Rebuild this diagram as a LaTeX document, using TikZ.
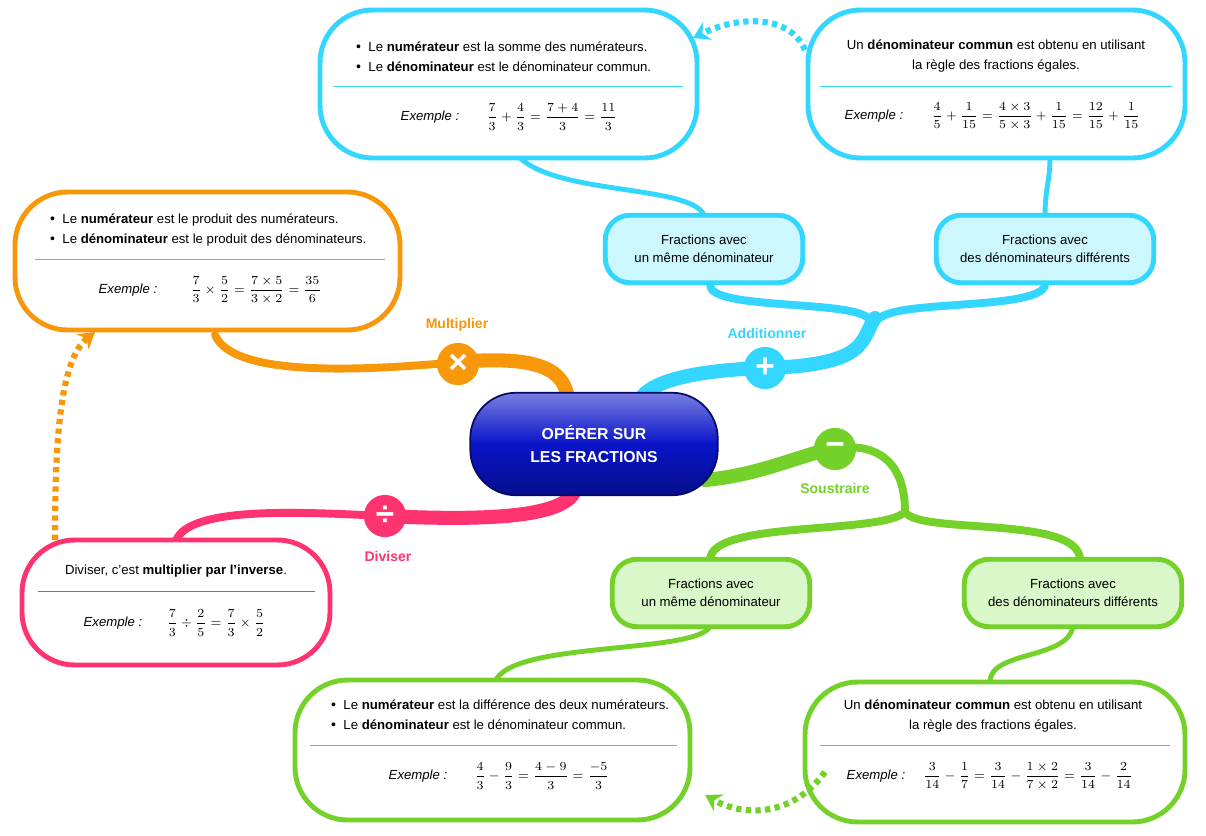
\documentclass[tikz,border=0pt]{standalone}
\usepackage{amsmath}
\usepackage{fontspec}
\setmainfont{Liberation Sans}
\usetikzlibrary{positioning, arrows.meta, calc}
\definecolor{addc}{RGB}{51,214,255}
\definecolor{addf}{RGB}{204,247,255}
\definecolor{mulc}{RGB}{247,152,10}
\definecolor{subc}{RGB}{115,209,42}
\definecolor{subf}{RGB}{217,247,201}
\definecolor{divc}{RGB}{255,51,112}
\definecolor{corec}{RGB}{10,20,200}
\newcommand{\pt}{{\footnotesize\textbullet}\ \ }
\tikzset{
	bubble/.style={draw, line width=2.8pt, rounded corners=30pt, fill=white},
	subnode/.style={draw, line width=2.8pt, rounded corners=14pt, minimum width=3.95cm, minimum height=1.35cm, align=center, font=\fontsize{7.5}{10}\selectfont},
	txt/.style={font=\fontsize{7.5}{11}\selectfont, align=left},
	ex/.style={font=\fontsize{7.5}{10}\selectfont\itshape},
	branch/.style={line width=8pt, line cap=round},
	twig/.style={line width=4.5pt, line cap=round},
	tail/.style={line width=2.8pt},
	opsym/.style={circle, minimum size=24pt, inner sep=0pt, text=white, font=\bfseries\fontsize{19}{19}\selectfont},
	oplab/.style={font=\bfseries\fontsize{8}{10}\selectfont},
	hint/.style={line width=3.5pt, dash pattern=on 3pt off 2.5pt, -{Stealth[length=9pt,width=11pt]}},
}
\begin{document}
\begin{tikzpicture}[x=0.02cm, y=-0.02cm]
\useasboundingbox (0,0) rectangle (1206,835);

% branches
\draw[mulc, twig] (215,335) .. controls (230,370) and (320,375) .. (458,362);
\draw[mulc, branch] (458,362) .. controls (540,355) and (565,370) .. (568,400);
\draw[addc, twig] (1045,285) .. controls (1040,310) and (900,300) .. (880,318);
\draw[addc, twig] (710,285) .. controls (710,310) and (850,300) .. (868,318);
\draw[addc, branch] (875,318) .. controls (860,340) and (870,365) .. (765,368)
	.. controls (700,370) and (650,380) .. (640,400);
\draw[subc, branch] (705,480) .. controls (760,475) and (800,455) .. (835,448);
\draw[subc, twig] (835,448) .. controls (900,440) and (905,490) .. (905,512);
\draw[subc, twig] (905,512) .. controls (920,535) and (1080,515) .. (1080,560);
\draw[subc, twig] (905,512) .. controls (880,535) and (710,520) .. (710,560);
\draw[divc, branch] (575,490) .. controls (565,520) and (470,520) .. (385,516);
\draw[divc, twig] (385,516) .. controls (300,512) and (180,505) .. (175,545);
% tails
\draw[addc, tail] (704,215) .. controls (690,185) and (560,195) .. (520,158);
\draw[addc, tail] (1045,215) .. controls (1045,190) and (1050,180) .. (1050,158);
\draw[subc, tail] (711,625) .. controls (700,655) and (510,640) .. (495,682);
\draw[subc, tail] (1073,625) .. controls (1070,660) and (990,650) .. (990,682);

% centre
\node[rounded corners=26pt, minimum width=4.95cm, minimum height=2.05cm, top color=corec!55!white, bottom color=corec!70!black, middle color=corec, draw=corec!50!black, line width=1pt, text=white, align=center, font=\bfseries\fontsize{9}{13}\selectfont] (core) at (594,444) {OPÉRER SUR\\LES FRACTIONS};

% operation circles and labels
\node[opsym, fill=mulc] (mul) at (458,364) {×};
\node[oplab, text=mulc] (mullab) at (457,325) {Multiplier};
\node[opsym, fill=addc] (add) at (765,368) {+};
\node[oplab, text=addc] (addlab) at (767,333) {Additionner};
\node[opsym, fill=subc] (sub) at (835,449) {−};
\node[oplab, text=subc] (sublab) at (835,488) {Soustraire};
\node[opsym, fill=divc] (div) at (385,516) {÷};
\node[oplab, text=divc] (divlab) at (388,556) {Diviser};

% small nodes
\node[subnode, draw=addc, fill=addf] (addsame) at (704,249) {Fractions avec\\un même dénominateur};
\node[subnode, draw=addc, fill=addf, minimum width=4.35cm] (adddiff) at (1045,249) {Fractions avec\\des dénominateurs différents};
\node[subnode, draw=subc, fill=subf] (subsame) at (711,593) {Fractions avec\\un même dénominateur};
\node[subnode, draw=subc, fill=subf, minimum width=4.35cm] (subdiff) at (1073,593) {Fractions avec\\des dénominateurs différents};

% addition bubbles
\draw[bubble, draw=addc] (320,10) rectangle (697,158);
\node[txt, anchor=north west] (addsametxt) at (350,36) {\pt Le \textbf{numérateur} est la somme des numérateurs.\\\pt Le \textbf{dénominateur} est le dénominateur commun.};
\draw[addc, thin] (333,86) -- (683,86);
\node[ex] (addsameex) at (430,117) {Exemple :};
\node[txt] (addsameeq) at (552,117) {$\dfrac{7}{3}+\dfrac{4}{3}=\dfrac{7+4}{3}=\dfrac{11}{3}$};

\draw[bubble, draw=addc] (808,10) rectangle (1185,158);
\node[txt, align=center] (adddifftxt) at (996,56) {Un \textbf{dénominateur commun} est obtenu en utilisant\\la règle des fractions égales.};
\draw[addc, thin] (820,86) -- (1172,86);
\node[ex] (adddiffex) at (874,116) {Exemple :};
\node[txt] (adddiffeq) at (1036,116) {$\dfrac{4}{5}+\dfrac{1}{15}=\dfrac{4\times 3}{5\times 3}+\dfrac{1}{15}=\dfrac{12}{15}+\dfrac{1}{15}$};

% multiplication bubble
\draw[bubble, draw=mulc] (15,192) rectangle (400,330);
\node[txt, anchor=north west] (multxt) at (44,208) {\pt Le \textbf{numérateur} est le produit des numérateurs.\\\pt Le \textbf{dénominateur} est le produit des dénominateurs.};
\draw[mulc, thin] (35,259) -- (385,259);
\node[ex] (mulex) at (128,290) {Exemple :};
\node[txt] (muleq) at (256,290) {$\dfrac{7}{3}\times\dfrac{5}{2}=\dfrac{7\times 5}{3\times 2}=\dfrac{35}{6}$};

% division bubble
\draw[bubble, draw=divc] (22,540) rectangle (330,665);
\node[txt] (divtxt) at (176,571) {Diviser, c'est \textbf{multiplier par l'inverse}.};
\draw[divc, thin] (38,591) -- (315,591);
\node[ex] (divex) at (113,623) {Exemple :};
\node[txt] (diveq) at (216,623) {$\dfrac{7}{3}\div\dfrac{2}{5}=\dfrac{7}{3}\times\dfrac{5}{2}$};

% subtraction bubbles
\draw[bubble, draw=subc] (295,680) rectangle (690,820);
\node[txt, anchor=north west] (subsametxt) at (325,694) {\pt Le \textbf{numérateur} est la différence des deux numérateurs.\\\pt Le \textbf{dénominateur} est le dénominateur commun.};
\draw[subc, thin] (310,745) -- (677,745);
\node[ex] (subsameex) at (418,776) {Exemple :};
\node[txt] (subsameeq) at (542,776) {$\dfrac{4}{3}-\dfrac{9}{3}=\dfrac{4-9}{3}=\dfrac{-5}{3}$};

\draw[bubble, draw=subc] (805,682) rectangle (1185,822);
\node[txt, align=center] (subdifftxt) at (993,716) {Un \textbf{dénominateur commun} est obtenu en utilisant\\la règle des fractions égales.};
\draw[subc, thin] (820,745) -- (1170,745);
\node[ex] (subdiffex) at (876,776) {Exemple :};
\node[txt] (subdiffeq) at (1028,776) {$\dfrac{3}{14}-\dfrac{1}{7}=\dfrac{3}{14}-\dfrac{1\times 2}{7\times 2}=\dfrac{3}{14}-\dfrac{2}{14}$};

% hint arrows
\draw[hint, addc] (805,50) .. controls (790,15) and (740,15) .. (693,38);
\draw[hint, mulc] (55,540) .. controls (55,440) and (60,360) .. (95,332);
\draw[hint, subc] (825,772) .. controls (790,820) and (740,815) .. (705,795);
\end{tikzpicture}
\end{document}
